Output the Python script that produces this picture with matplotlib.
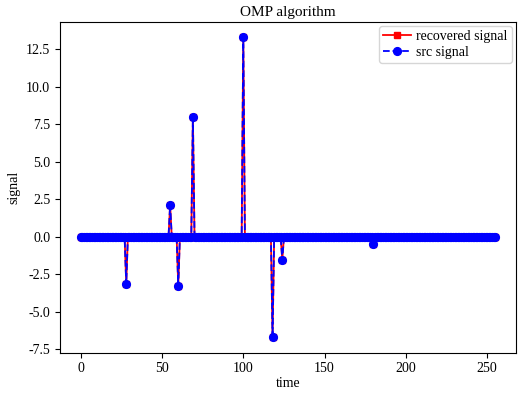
import numpy as np
import matplotlib.pyplot as plt

plt.rcParams['font.family'] = ['Liberation Serif', 'DejaVu Serif']
plt.rcParams['font.size'] = 10
plt.rcParams['axes.unicode_minus'] = False

n = 256
spike_idx = [28, 55, 60, 69, 100, 118, 124, 180]
spike_val = [-3.15, 2.15, -3.3, 8.0, 13.33, -6.7, -1.55, -0.45]
rec_val = [-3.15, 2.15, -3.3, 8.0, 13.33, -6.7, -1.55, -0.45]

x = np.zeros(n)
x[spike_idx] = spike_val
x_rec = np.zeros(n)
x_rec[spike_idx] = rec_val
t = np.arange(n)

fig = plt.figure(figsize=(5.19, 3.93), dpi=100)
plt.subplots_adjust(left=0.1156, right=0.9942, top=0.9448, bottom=0.103)
plt.plot(t, x_rec, 'rs-', lw=1.3, ms=4.6, label='recovered signal')
plt.plot(t, x, 'bo--', lw=1.3, ms=5.6, label='src signal')
plt.title('OMP algorithm', fontsize=11, pad=4)
plt.xlabel('time', labelpad=1)
plt.ylabel('signal')
plt.legend(loc='upper right', borderaxespad=0.3, handletextpad=0.4, borderpad=0.3, labelspacing=0.2)
plt.savefig('out.png')
